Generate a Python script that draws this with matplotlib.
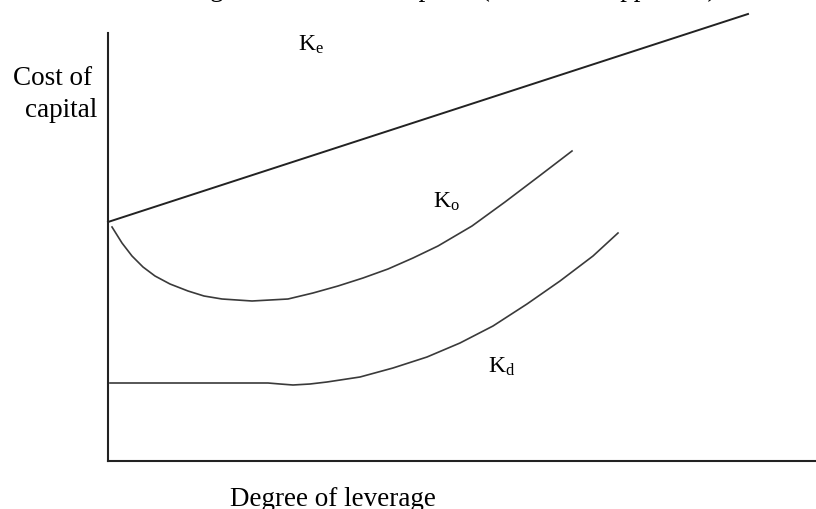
import matplotlib

matplotlib.use("Agg")
import matplotlib.pyplot as plt

plt.rcParams["font.family"] = ["Liberation Serif", "DejaVu Serif"]
plt.rcParams["mathtext.fontset"] = "custom"
plt.rcParams["mathtext.rm"] = "Liberation Serif"
plt.rcParams["mathtext.it"] = "Liberation Serif"

# leverage (x) / cost of capital (y)
ke_x = [0, 640]
ke_y = [239, 447]

ko_x = [4, 14, 24, 35, 47, 62, 80, 96, 114, 144, 180, 205, 230, 255, 280, 305, 330, 364, 397, 430, 464]
ko_y = [234, 218, 205, 194, 185, 177, 170, 165, 162, 160, 162, 168, 175, 183, 192, 203, 215, 235, 259, 284, 310]

kd_x = [2, 160, 172, 185, 202, 219, 252, 285, 319, 352, 385, 419, 452, 485, 510]
kd_y = [78, 78, 77, 76, 77, 79, 84, 93, 104, 118, 135, 157, 180, 205, 228]

labels = {"K$_{\\rm e}$": (190, 411), "K$_{\\rm o}$": (325, 254), "K$_{\\rm d}$": (380, 89)}

W, H = 816, 510
fig = plt.figure(figsize=(W / 100, H / 100), dpi=100)
ax = fig.add_axes([108 / W, 48 / H, (W - 108) / W, 428 / H])
ax.set_xlim(0, W - 108)
ax.set_ylim(0, 428)

line_col = "#3a3a3a"
ax.plot(ke_x, ke_y, color="#222222", lw=1.4, clip_on=False)
ax.plot(ko_x, ko_y, color=line_col, lw=1.2, clip_on=False, solid_joinstyle="round")
ax.plot(kd_x, kd_y, color=line_col, lw=1.2, clip_on=False, solid_joinstyle="round")

for txt, (lx, ly) in labels.items():
    ax.text(lx, ly, txt, fontsize=17, ha="left", va="baseline")

for side in ["top", "right"]:
    ax.spines[side].set_visible(False)
for side in ["left", "bottom"]:
    ax.spines[side].set_linewidth(1.5)
    ax.spines[side].set_color("#222222")
ax.set_xticks([])
ax.set_yticks([])

fs = 19.5
fig.text(13 / W, 1 - 85 / H, "Cost of", fontsize=fs, ha="left", va="baseline")
fig.text(25 / W, 1 - 117 / H, "capital", fontsize=fs, ha="left", va="baseline")
fig.text(230 / W, 1 - 506 / H, "Degree of leverage", fontsize=fs, ha="left", va="baseline")

# caption cut off at the top edge of the picture
fig.text(42 / W, 1 + 4 / H, "Effect of leverage under the assumption (traditional approach)",
         fontsize=fs, ha="left", va="baseline")

fig.savefig("out.png", dpi=100)
